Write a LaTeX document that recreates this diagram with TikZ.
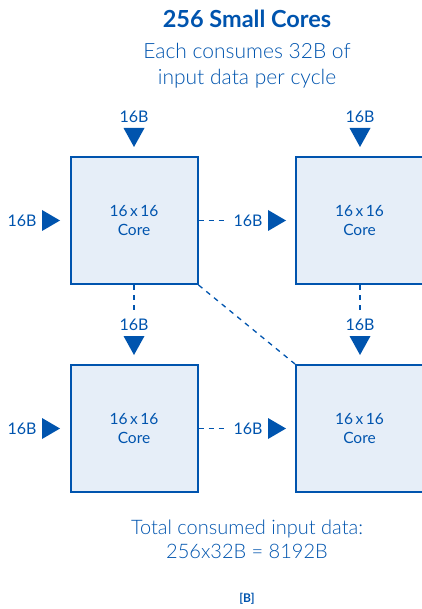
\documentclass[tikz,border=0pt]{standalone}
\usepackage{fontspec}
\setmainfont{Lato}
% thinner face for the running text, if the light cut is present
\IfFontExistsTF{Lato Light}{\newfontfamily\lightface{Lato Light}}{\newcommand\lightface{}}
\definecolor{ink}{HTML}{0054AE}
\definecolor{corefill}{HTML}{E6EEF8}
\tikzset{
  core/.style={draw=ink, line width=2pt, fill=corefill, minimum width=127pt, minimum height=127pt,
    inner sep=0pt, align=center, text=ink, font=\fontsize{15.5}{19}\selectfont},
  bytes/.style={text=ink, inner sep=0pt, font=\fontsize{16}{18}\selectfont},
  link/.style={draw=ink, line width=1.3pt, dash pattern=on 5pt off 5pt},
  txt/.style={text=ink, align=center, inner sep=0pt},
}
% arrowheads: down-pointing and right-pointing filled triangles
\newcommand\downtri[1]{\fill[ink] (#1) ++(-10.5,-19) -- ++(21,0) -- ++(-10.5,19) -- cycle;}
\newcommand\righttri[1]{\fill[ink] (#1) ++(-18,-10.5) -- ++(0,21) -- ++(18,-10.5) -- cycle;}
\begin{document}
\begin{tikzpicture}[x=1pt, y=-1pt]
\useasboundingbox (0,0) rectangle (422,609);

% headings
\node[txt, font=\fontsize{23.5}{26}\bfseries\selectfont] (title) at (247,19) {256 Small Cores};
\node[txt, font=\lightface\fontsize{21}{26}\selectfont] (sub) at (247,66) {Each consumes 32B of\\input data per cycle};

% cores
\node[core] (a) at (134,220.5) {16\,x\,16\\Core};
\node[core] (b) at (359.5,220.5) {16\,x\,16\\Core};
\node[core] (c) at (134,428.5) {16\,x\,16\\Core};
\node[core] (d) at (359.5,428.5) {16\,x\,16\\Core};

% top inputs
\node[bytes] (ta) at (134,117) {16B};
\coordinate (tat) at (134,147); \downtri{tat}
\node[bytes] (tb) at (360,117) {16B};
\coordinate (tbt) at (360,147); \downtri{tbt}

% left inputs
\node[bytes] (la) at (22,220.5) {16B};
\coordinate (lat) at (60,220.5); \righttri{lat}
\node[bytes] (lc) at (22,428.5) {16B};
\coordinate (lct) at (60,428.5); \righttri{lct}

% forwarded data between neighbouring cores
\coordinate (ab) at (226,220.5);
\draw[link] (a.east) -- (ab);
\node[bytes] (mab) at (248,220.5) {16B};
\coordinate (abt) at (286,220.5); \righttri{abt}

\coordinate (cd) at (226,428.5);
\draw[link] (c.east) -- (cd);
\node[bytes] (mcd) at (248,428.5) {16B};
\coordinate (cdt) at (286,428.5); \righttri{cdt}

\coordinate (ac) at (134,312);
\draw[link] (a.south) -- (ac);
\node[bytes] (mac) at (134,325) {16B};
\coordinate (act) at (134,355); \downtri{act}

\coordinate (bd) at (360,312);
\draw[link] (b.south -| bd) -- (bd);
\node[bytes] (mbd) at (360,325) {16B};
\coordinate (bdt) at (360,355); \downtri{bdt}

\draw[link] (a.south east) -- (d.north west);

% totals
\node[txt, font=\lightface\fontsize{20}{24}\selectfont] (total) at (247,539) {Total consumed input data:\\256x32B = 8192B};
\node[txt, font=\fontsize{12}{13}\bfseries\selectfont] (ref) at (247,599) {[B]};
\end{tikzpicture}
\end{document}
